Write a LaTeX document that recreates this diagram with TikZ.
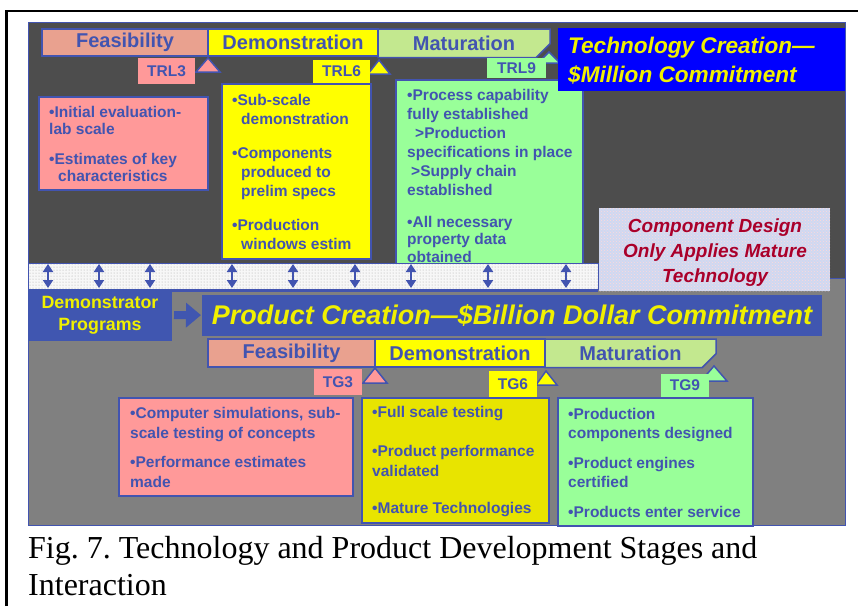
\documentclass[tikz,border=0pt]{standalone}
\usepackage{fontspec}
\setmainfont{Liberation Serif}
\setsansfont{Liberation Sans}
\usetikzlibrary{arrows.meta,shapes.misc,patterns}
\frenchspacing

\definecolor{txtblue}{RGB}{66,84,176}
\definecolor{darkpanel}{RGB}{77,77,77}
\definecolor{lowpanel}{RGB}{128,128,128}
\definecolor{feasbar}{RGB}{233,161,143}
\definecolor{matbar}{RGB}{195,232,143}
\definecolor{pinkbox}{RGB}{255,153,153}
\definecolor{greenbox}{RGB}{153,255,153}
\definecolor{demoyellow}{RGB}{255,255,0}
\definecolor{darkyellow}{RGB}{232,228,0}
\definecolor{techblue}{RGB}{0,0,255}
\definecolor{headyellow}{RGB}{240,240,0}
\definecolor{prodblue}{RGB}{64,86,176}
\definecolor{wine}{RGB}{170,0,42}
\definecolor{mottle}{RGB}{206,216,242}

\newcommand{\bodyfont}{\sffamily\bfseries\fontsize{15.5}{19}\selectfont}

\tikzset{
  stagebar/.style={draw=txtblue, line width=1.5pt, inner sep=0pt, outer sep=0pt,
    anchor=north west, minimum height=27pt, text=txtblue,
    font=\sffamily\bfseries\fontsize{20}{24}\selectfont},
  infobox/.style={draw=txtblue, line width=1.5pt, inner sep=0pt, outer sep=0pt, anchor=north west},
  infotext/.style={anchor=base west, inner sep=0pt, align=left, text=txtblue, font=\bodyfont},
  trl/.style={anchor=north west, inner sep=0pt, outer sep=0pt, text=txtblue,
    font=\sffamily\bfseries\fontsize{15.5}{18}\selectfont},
  marker/.style={draw=txtblue, line width=1.5pt, line join=miter},
  linkarrow/.style={draw=txtblue, line width=2pt, {Triangle[length=8pt,width=10pt]}-{Triangle[length=8pt,width=10pt]}},
  banner/.style={anchor=north west, inner sep=0pt, outer sep=0pt, text=headyellow},
}

\begin{document}
\begin{tikzpicture}[x=1pt,y=-1pt]
\useasboundingbox (0,0) rectangle (858,606);

% frame of the table cell
\draw[line width=2.2pt] (6.5,606) -- (6.5,11) -- (858,11);

% panels
\draw[fill=darkpanel, draw=txtblue, line width=1pt] (28,22) rectangle (845,278);
\draw[fill=lowpanel, draw=txtblue, line width=1pt] (28,278) rectangle (845,525);

% technology stages
\node[stagebar, fill=feasbar, minimum width=166] (tfbar) at (42,29) {Feasibility};
\node[stagebar, fill=demoyellow, minimum width=170] (tdbar) at (208,29) {Demonstration};
\node[stagebar, fill=matbar, minimum width=172, chamfered rectangle,
      chamfered rectangle corners=south east, chamfered rectangle xsep=7pt,
      chamfered rectangle ysep=7pt] (tmbar) at (378,29) {Maturation};

\draw[marker, fill=pinkbox] (208,58) -- (196,72) -- (220,72) -- cycle;
\draw[marker, fill=demoyellow] (379,60) -- (368,74) -- (390,74) -- cycle;
\draw[marker, fill=greenbox] (549,52) -- (538,63) -- (560,63) -- cycle;

\node[trl, fill=pinkbox, minimum width=57, minimum height=26] (trl3) at (138,58) {TRL3};
\node[trl, fill=demoyellow, minimum width=57, minimum height=23] (trl6) at (313,60) {TRL6};
\node[trl, fill=greenbox, minimum width=59, minimum height=20] (trl9) at (487,58) {TRL9};

\node[infobox, fill=pinkbox, minimum width=169, minimum height=93] (tfbox) at (39,97) {};
\node[infotext, font=\sffamily\bfseries\fontsize{15.5}{17}\selectfont] (tftxt) at (49,181)
  {•Initial evaluation-\\lab scale\\[13pt]•Estimates of key\\\hspace*{9pt}characteristics};

\node[infobox, fill=demoyellow, minimum width=149, minimum height=175] (tdbox) at (222,84) {};
\node[infotext] (tdtxt) at (232,249)
  {•Sub-scale\\\hspace*{9pt}demonstration\\[15pt]•Components\\\hspace*{9pt}produced to\\\hspace*{9pt}prelim specs\\[15pt]•Production\\\hspace*{9pt}windows estim};

\node[infobox, fill=greenbox, minimum width=187, minimum height=195] (tmbox) at (396,80) {};
\node[infotext] (tmtxt) at (407,262)
  {•Process capability\\fully established\\\hspace*{8pt}>Production\\specifications in place\\\hspace*{4pt}>Supply chain\\established\\[13pt]•All necessary\\[-1.5pt]property data\\[-1.5pt]obtained};

\node[banner, fill=techblue, minimum width=287, minimum height=63] (techbox) at (558,28) {};
\node[anchor=base west, inner sep=0pt, align=left, text=headyellow,
      font=\sffamily\bfseries\itshape\fontsize{22.6}{29}\selectfont] (techtxt) at (568,82)
  {Technology Creation—\\\$Million Commitment};

% link strip
\path[preaction={fill=white!94!gray}, pattern=dots, pattern color=gray!70, draw=txtblue, line width=0.6pt]
  (28,263) rectangle (598,289);
\draw[txtblue, line width=3pt] (28,290.5) -- (598,290.5);
\foreach \x [count=\i] in {48,99,150,232,293,355,411,488,566}{
  \coordinate (up\i) at (\x,264);
  \coordinate (dn\i) at (\x,288);
  \draw[linkarrow] (up\i) -- (dn\i);
}

\node[anchor=north west, inner sep=0pt, pattern=crosshatch dots,
      pattern color=pink!60, preaction={fill=mottle}, minimum width=231, minimum height=83] (compbox) at (599,208) {};
\node[anchor=base, inner sep=0pt, align=center, text=wine,
      font=\sffamily\bfseries\itshape\fontsize{19}{25}\selectfont] (comptxt) at (715,282)
  {Component Design\\Only Applies Mature\\Technology};

% product creation
\node[banner, fill=prodblue, minimum width=144, minimum height=52, align=center,
      font=\sffamily\bfseries\fontsize{17.8}{22}\selectfont] (demoprog) at (28,289) {Demonstrator\\Programs};
\node[banner, fill=prodblue, minimum width=620, minimum height=41,
      font=\sffamily\bfseries\itshape\fontsize{27}{30}\selectfont] (prodbar) at (202,295)
  {Product Creation—\$Billion Dollar Commitment};
\draw[prodblue, line width=8pt, shorten <=2pt, shorten >=1pt, -{Triangle[length=15pt,width=24pt]}] (demoprog) -- (prodbar);

\node[stagebar, fill=feasbar, minimum width=167, minimum height=28] (bfbar) at (208,339) {Feasibility};
\node[stagebar, fill=demoyellow, minimum width=170, minimum height=28] (bdbar) at (375,339) {Demonstration};
\node[stagebar, fill=matbar, minimum width=171, minimum height=28, chamfered rectangle,
      chamfered rectangle corners=south east, chamfered rectangle xsep=7pt,
      chamfered rectangle ysep=7pt] (bmbar) at (545,339) {Maturation};

\draw[marker, fill=pinkbox] (375,368) -- (363,383) -- (387,383) -- cycle;
\draw[marker, fill=demoyellow] (546,371) -- (536,385) -- (557,385) -- cycle;
\draw[marker, fill=greenbox] (714,366) -- (701,381) -- (727,381) -- cycle;

\node[trl, fill=pinkbox, minimum width=48, minimum height=26] (tg3) at (314,369) {TG3};
\node[trl, fill=demoyellow, minimum width=48, minimum height=26] (tg6) at (489,371) {TG6};
\node[trl, fill=greenbox, minimum width=48, minimum height=23] (tg9) at (661,374) {TG9};

\node[infobox, fill=pinkbox, minimum width=234, minimum height=98] (bfbox) at (119,398) {};
\node[infotext, font=\sffamily\bfseries\fontsize{15.5}{19.5}\selectfont] (bftxt) at (130,487)
  {•Computer simulations, sub-\\scale testing of concepts\\[10pt]•Performance estimates\\made};

\node[infobox, fill=darkyellow, minimum width=187, minimum height=125] (bdbox) at (362,398) {};
\node[infotext, font=\sffamily\bfseries\fontsize{15.5}{19.5}\selectfont] (bdtxt) at (372,513)
  {•Full scale testing\\[19.5pt]•Product performance\\validated\\[17.5pt]•Mature Technologies};

\node[infobox, fill=greenbox, minimum width=195, minimum height=128] (bmbox) at (558,398) {};
\node[infotext, font=\sffamily\bfseries\fontsize{15.5}{19.5}\selectfont] (bmtxt) at (568,517)
  {•Production\\components designed\\[10pt]•Product engines\\certified\\[10pt]•Products enter service};

% caption
\node[anchor=base west, inner sep=0pt, align=left, font=\fontsize{32}{37}\selectfont] (caption) at (28,595)
  {Fig. 7. Technology and Product Development Stages and\\Interaction};
\end{tikzpicture}
\end{document}
